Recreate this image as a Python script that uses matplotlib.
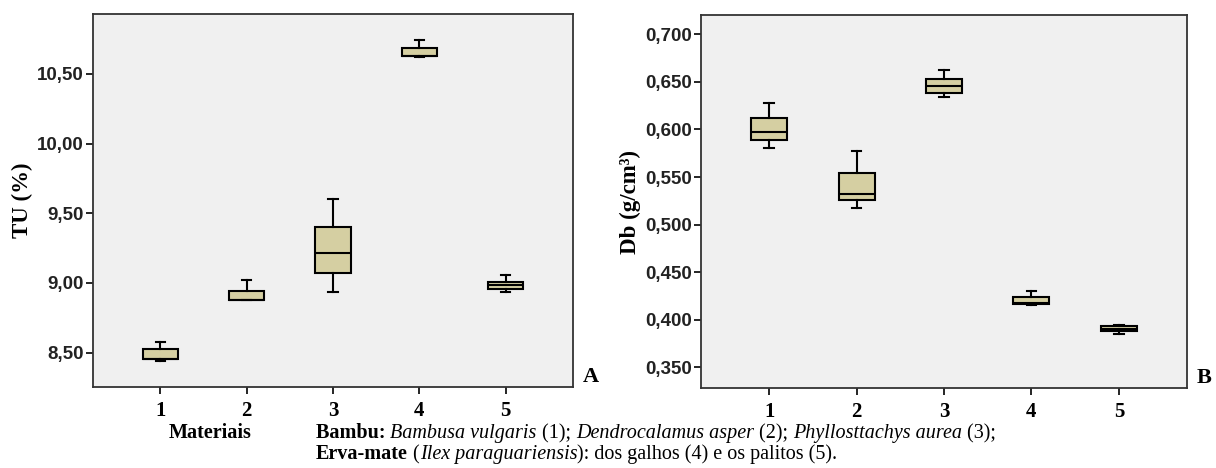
import matplotlib
matplotlib.use("Agg")
import matplotlib.pyplot as plt
from matplotlib.ticker import FuncFormatter, FixedLocator

# materials on the x axis
materials = [1, 2, 3, 4, 5]
tick_labels = ["1", "2", "3", "4", "5"]

# panel A: TU (%) five-number summaries
tu_whislo = [8.443, 8.878, 8.935, 10.624, 8.932]
tu_q1 = [8.452, 8.878, 9.070, 10.632, 8.957]
tu_med = [8.455, 8.880, 9.215, 10.632, 8.986]
tu_q3 = [8.527, 8.945, 9.400, 10.689, 9.005]
tu_whishi = [8.579, 9.024, 9.600, 10.745, 9.058]
tu_ticks = [8.5, 9.0, 9.5, 10.0, 10.5]

# panel B: Db (g/cm3) five-number summaries
db_whislo = [0.5810, 0.5176, 0.6338, 0.4157, 0.3849]
db_q1 = [0.5887, 0.5256, 0.6387, 0.4170, 0.3880]
db_med = [0.5970, 0.5322, 0.6457, 0.4172, 0.3908]
db_q3 = [0.6118, 0.5546, 0.6530, 0.4241, 0.3936]
db_whishi = [0.6275, 0.5775, 0.6628, 0.4307, 0.3950]
db_ticks = [0.35, 0.40, 0.45, 0.50, 0.55, 0.60, 0.65, 0.70]

BOX_FILL = "#d5cfa2"
AX_BG = "#f0f0f0"
SERIF = "Liberation Serif"
SANS = "Liberation Sans"
CAP_SIZE = 14.5


def panel(ax, whislo, q1, med, q3, whishi, ticks, decimals, ylim, ylabel, letter):
    stats = [dict(whislo=a, q1=b, med=c, q3=d, whishi=e, fliers=[])
             for a, b, c, d, e in zip(whislo, q1, med, q3, whishi)]
    ax.bxp(stats, positions=materials, widths=0.41, capwidths=0.11,
           patch_artist=True, showfliers=False,
           boxprops=dict(facecolor=BOX_FILL, edgecolor="black", linewidth=1.5),
           medianprops=dict(color="black", linewidth=1.5),
           whiskerprops=dict(color="black", linewidth=1.5),
           capprops=dict(color="black", linewidth=1.5))
    ax.set_facecolor(AX_BG)
    ax.set_xlim(0.22, 5.78)
    ax.set_ylim(*ylim)
    ax.yaxis.set_major_locator(FixedLocator(ticks))
    ax.yaxis.set_major_formatter(
        FuncFormatter(lambda v, _: f"{v:.{decimals}f}".replace(".", ",")))
    ax.set_xticks(materials)
    ax.set_xticklabels(tick_labels, fontfamily=SERIF, fontweight="bold", fontsize=15)
    for lab in ax.get_yticklabels():
        lab.set_fontfamily(SANS)
        lab.set_fontweight("bold")
        lab.set_fontsize(13.5)
        lab.set_color("#222222")
    ax.tick_params(axis="both", length=5, width=1.2, color="black", pad=1.5)
    ax.tick_params(axis="x", pad=5)
    for s in ax.spines.values():
        s.set_color("#333333")
        s.set_linewidth(1.3)
    ax.set_ylabel(ylabel, fontfamily=SERIF, fontweight="bold", fontsize=16.5, labelpad=3)
    ax.text(1.02, 0.0, letter, transform=ax.transAxes, fontfamily=SERIF,
            fontweight="bold", fontsize=16, ha="left", va="bottom")


def rich_line(fig, x_px, y_px, segments):
    # draw text pieces one after another, each starting where the last ended
    renderer = fig.canvas.get_renderer()
    x = x_px
    for txt, weight, style in segments:
        t = fig.text(x / fig.bbox.width, 1 - y_px / fig.bbox.height, txt,
                     fontfamily=SERIF, fontweight=weight, fontstyle=style,
                     fontsize=CAP_SIZE, ha="left", va="baseline")
        bb = t.get_window_extent(renderer)
        x = bb.x1


fig = plt.figure(figsize=(12.16, 4.68), dpi=100)
ax1 = fig.add_axes([93 / 1216, 1 - 387 / 468, 480 / 1216, 373 / 468])
ax2 = fig.add_axes([701 / 1216, 1 - 388 / 468, 486 / 1216, 373 / 468])

panel(ax1, tu_whislo, tu_q1, tu_med, tu_q3, tu_whishi, tu_ticks, 2,
      (8.253, 10.93), "TU (%)", "A")
panel(ax2, db_whislo, db_q1, db_med, db_q3, db_whishi, db_ticks, 3,
      (0.3284, 0.7203), "Db (g/cm³)", "B")

# caption below the panels
fig.text(210 / 1216, 1 - 438 / 468, "Materiais", fontfamily=SERIF,
         fontweight="bold", fontsize=CAP_SIZE, ha="center", va="baseline")

line1 = [("Bambu: ", "bold", "normal"), ("Bambusa vulgaris", "normal", "italic"),
         (" (1); ", "normal", "normal"), ("Dendrocalamus asper", "normal", "italic"),
         (" (2); ", "normal", "normal"), ("Phyllosttachys aurea", "normal", "italic"),
         (" (3);", "normal", "normal")]
line2 = [("Erva-mate", "bold", "normal"), (" (", "normal", "normal"),
         ("Ilex paraguariensis", "normal", "italic"),
         ("): dos galhos (4) e os palitos (5).", "normal", "normal")]

fig.canvas.draw()
rich_line(fig, 316, 438, line1)
rich_line(fig, 316, 459, line2)

fig.savefig("out.png", dpi=100, facecolor="white")
